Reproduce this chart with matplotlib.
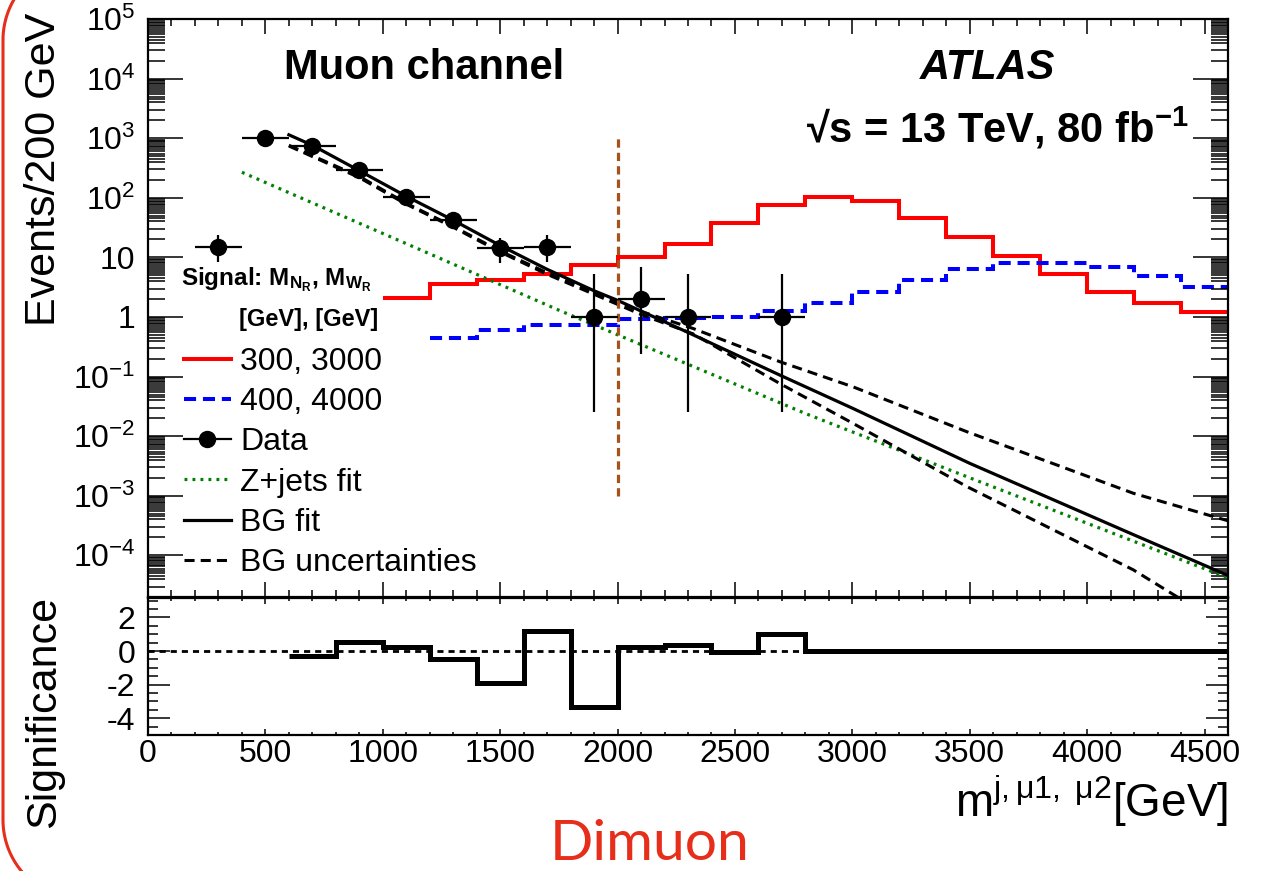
import numpy as np
import matplotlib
matplotlib.use("Agg")
import matplotlib.pyplot as plt
from matplotlib.lines import Line2D
from matplotlib.ticker import LogLocator, MultipleLocator, FixedLocator, FixedFormatter, NullFormatter

plt.rcParams['font.family'] = ['Liberation Sans', 'DejaVu Sans']
plt.rcParams['mathtext.fontset'] = 'custom'
plt.rcParams['mathtext.rm'] = 'Liberation Sans'
plt.rcParams['mathtext.it'] = 'Liberation Sans:italic'
plt.rcParams['mathtext.bf'] = 'Liberation Sans:bold'
plt.rcParams['mathtext.sf'] = 'Liberation Sans'
plt.rcParams['axes.unicode_minus'] = False

# ---------------- data ----------------
data_x = [300, 500, 700, 900, 1100, 1300, 1500, 1700, 1900, 2100, 2300, 2700]
data_y = [14.9, 1024, 746, 289, 103, 41.9, 14.1, 14.9, 1.0, 2.0, 1.0, 1.0]
data_lo = [8.3, 992, 719, 272, 93, 35.4, 8.0, 8.3, 0.0255, 0.243, 0.0255, 0.0255]
data_hi = [23.5, 1056, 773, 306, 113, 48.4, 21.0, 23.5, 5.35, 6.9, 5.35, 5.35]
data_xhalf = [100, 100, 100, 100, 100, 100, 100, 100, 100, 100, 100, 100]

sig1_edges = [1000, 1200, 1400, 1600, 1800, 2000, 2200, 2400, 2600, 2800, 3000,
              3200, 3400, 3600, 3800, 4000, 4200, 4400, 4600]
sig1_vals = [2.08, 3.63, 4.13, 5.35, 7.57, 10.2, 17.0, 37.5, 76, 105, 87, 45,
             22, 10.5, 5.2, 2.65, 1.7, 1.2]

sig2_edges = [1200, 1400, 1600, 1800, 2000, 2200, 2400, 2600, 2800, 3000, 3200,
              3400, 3600, 3800, 4000, 4200, 4400, 4600]
sig2_vals = [0.45, 0.60, 0.73, 0.73, 0.93, 0.95, 0.98, 1.26, 1.74, 2.6, 4.1,
             6.3, 8.2, 8.2, 6.8, 4.9, 3.2]

bg_x = [600, 700, 900, 1100, 1300, 1500, 1700, 1900, 2000, 2300, 2700, 3000, 3500, 4200, 4600]
bg_fit = [1140, 760, 285, 106, 42, 15.8, 6.3, 2.75, 1.9, 0.55, 0.102, 0.0295, 3.5e-3, 2.2e-4, 4.6e-5]

unc_x = [600, 900, 1100, 1300, 1500, 1700, 1900, 2100, 2322, 2692, 3004, 3487, 4197, 4600]
unc_up = [760, 228, 81, 33, 12.8, 5.5, 2.6, 1.24, 0.64, 0.177, 0.067, 0.0119, 1.1e-3, 3.8e-4]
unc_dn = [740, 218, 78, 32, 12.3, 5.2, 2.4, 1.1, 0.52, 0.076, 0.0163, 1.43e-3, 5.7e-5, 6e-6]

zj_x = [400, 1100, 1750, 2800, 3500, 4600]
zj_y = [268, 17, 1.3, 0.024, 2.0e-3, 4.2e-5]

cut_x = 2000
cut_range = [1e-3, 1e3]

signif_edges = [600, 800, 1000, 1200, 1400, 1600, 1800, 2000, 2200, 2400, 2600,
                2800, 3000, 3200, 3400, 3600, 3800, 4000, 4200, 4400, 4600]
signif_vals = [-0.3, 0.55, 0.22, -0.5, -1.93, 1.18, -3.32, 0.22, 0.36, -0.04, 1.0,
               0, 0, 0, 0, 0, 0, 0, 0, 0]

x_ticks = [0, 500, 1000, 1500, 2000, 2500, 3000, 3500, 4000, 4500]
y_ticks = [1e-4, 1e-3, 1e-2, 1e-1, 1, 10, 1e2, 1e3, 1e4, 1e5]
y_ticklabels = [r'$\mathregular{10^{-4}}$', r'$\mathregular{10^{-3}}$', r'$\mathregular{10^{-2}}$',
                r'$\mathregular{10^{-1}}$', '1', '10', r'$\mathregular{10^{2}}$',
                r'$\mathregular{10^{3}}$', r'$\mathregular{10^{4}}$', r'$\mathregular{10^{5}}$']
sig_ticks = [-4, -2, 0, 2]

# ---------------- figure ----------------
W, H = 1264, 871
fig = plt.figure(figsize=(W / 100, H / 100), dpi=100)


def fx(p):
    return p / W


def fy(p):
    return 1 - p / H


L, R = 148, 1228
main_top, main_bot = 19, 597
low_top, low_bot = 598, 735
ax = fig.add_axes([fx(L), fy(main_bot), (R - L) / W, (main_bot - main_top) / H])
axl = fig.add_axes([fx(L), fy(low_bot), (R - L) / W, (low_bot - low_top) / H])

# main panel
ax.set_yscale('log')
ax.set_xlim(0, 4600)
ax.set_ylim(2e-5, 1e5)

ax.stairs(sig1_vals, sig1_edges, baseline=None, color='#ff0000', lw=2.9)
ax.stairs(sig2_vals, sig2_edges, baseline=None, color='#0000ff', lw=2.9,
          linestyle=(0, (3.0, 1.7)))
ax.plot(zj_x, zj_y, color='#008000', lw=2.3, linestyle=(0, (0.9, 1.6)))
ax.plot(unc_x, unc_up, color='k', lw=2.2, linestyle=(0, (3.3, 2.0)))
ax.plot(unc_x, unc_dn, color='k', lw=2.2, linestyle=(0, (3.3, 2.0)))
ax.plot(bg_x, bg_fit, color='k', lw=2.3)
ax.vlines(cut_x, cut_range[0], cut_range[1], color='#a5521c', lw=2.3,
          linestyle=(0, (2.6, 1.6)))

dy = np.array(data_y)
yerr = [dy - np.array(data_lo), np.array(data_hi) - dy]
ax.errorbar(data_x, data_y, xerr=data_xhalf, yerr=yerr, fmt='o', color='k',
            ms=11.5, elinewidth=1.6, capsize=0, zorder=5)

ax.xaxis.set_major_locator(FixedLocator(x_ticks))
ax.xaxis.set_minor_locator(MultipleLocator(100))
ax.xaxis.set_major_formatter(NullFormatter())
ax.yaxis.set_major_locator(FixedLocator(y_ticks))
ax.yaxis.set_major_formatter(FixedFormatter(y_ticklabels))
ax.yaxis.set_minor_locator(LogLocator(base=10, subs=[2, 3, 4, 4.5, 5, 5.5, 6, 6.5, 7, 7.5, 8, 8.5, 9, 9.5], numticks=50))
ax.yaxis.set_minor_formatter(NullFormatter())
ax.tick_params(axis='both', which='both', direction='in', top=True, right=True, width=1.1)
ax.tick_params(axis='x', which='major', length=10.8)
ax.tick_params(axis='x', which='minor', length=5)
ax.tick_params(axis='y', which='major', length=25, labelsize=23, pad=9)
ax.tick_params(axis='y', which='minor', length=12)
for s in ax.spines.values():
    s.set_linewidth(1.6)

# legend
handles = [
    Line2D([], [], color='#ff0000', lw=2.9),
    Line2D([], [], color='#0000ff', lw=2.9, linestyle=(0, (3.0, 1.7))),
    Line2D([], [], color='k', lw=1.6, marker='o', ms=11.5),
    Line2D([], [], color='#008000', lw=2.3, linestyle=(0, (0.9, 1.6))),
    Line2D([], [], color='k', lw=2.3),
    Line2D([], [], color='k', lw=2.2, linestyle=(0, (3.3, 2.0))),
]
labels = ['300, 3000', '400, 4000', 'Data', 'Z+jets fit', 'BG fit', 'BG uncertainties']
ax.legend(handles, labels, loc='upper left',
          bbox_to_anchor=((184 - L) / (R - L), (main_bot - 347) / (main_bot - main_top)),
          frameon=False, fontsize=23, handlelength=1.47, handletextpad=0.28,
          labelspacing=0.32, borderpad=0, borderaxespad=0, numpoints=1)

fig.text(fx(181), fy(285), r'Signal: M$_{\mathbf{N}_{\mathbf{R}}}$, M$_{\mathbf{W}_{\mathbf{R}}}$',
         fontsize=17.5, fontweight='bold', ha='left', va='baseline')
fig.text(fx(378), fy(326), '[GeV], [GeV]', fontsize=17, fontweight='bold', ha='right', va='baseline')

fig.text(fx(424), fy(68), 'Muon channel', fontsize=30, fontweight='bold', ha='center', va='center')
fig.text(fx(988), fy(68), 'ATLAS', fontsize=30, fontweight='bold', fontstyle='italic',
         ha='center', va='center')
fig.text(fx(997), fy(128), '\u221as = 13 TeV, 80 fb$^{\\mathbf{-1}}$', fontsize=30,
         fontweight='bold', ha='center', va='center')

# lower panel
axl.set_xlim(0, 4600)
axl.set_ylim(-5.0, 3.16)
axl.hlines(0, 0, 4600, color='k', lw=2.0, linestyle=(0, (2.2, 1.8)))
axl.stairs(signif_vals, signif_edges, baseline=None, color='k', lw=3.6)
axl.xaxis.set_major_locator(FixedLocator(x_ticks))
axl.xaxis.set_minor_locator(MultipleLocator(100))
axl.yaxis.set_major_locator(FixedLocator(sig_ticks))
axl.yaxis.set_minor_locator(MultipleLocator(0.5))
axl.tick_params(axis='both', which='both', direction='in', top=True, right=True, width=1.1)
axl.tick_params(axis='x', which='major', length=4.5, labelsize=23, pad=3)
axl.tick_params(axis='x', which='minor', length=2.2)
axl.tick_params(axis='y', which='major', length=16, labelsize=23, pad=9)
axl.tick_params(axis='y', which='minor', length=7)
for s in axl.spines.values():
    s.set_linewidth(1.6)

# axis titles
fig.text(fx(44), fy(13), 'Events/200 GeV', fontsize=31, rotation=90, ha='center', va='top')
fig.text(fx(44), fy(596), 'Significance', fontsize=31, rotation=90, ha='center', va='top')
fig.text(fx(1228), fy(817), r'm$^{\mathregular{j,μ1,\ μ2}}$[GeV]', fontsize=33, ha='right', va='baseline')

# slide decoration
fig.text(fx(650), fy(860), 'Dimuon', fontsize=41, color='#e62e1b', family=['Lato', 'DejaVu Sans'],
         ha='center', va='baseline')
r_px = 80.0
t_top = np.linspace(np.pi, np.pi / 2, 40)
t_bot = np.linspace(3 * np.pi / 2, np.pi, 40)
top_x = 83 + r_px * np.cos(t_top)
top_y = 40 - r_px * np.sin(t_top)
bot_x = 83 + r_px * np.cos(t_bot)
bot_y = 820 - r_px * np.sin(t_bot)
edge_x = np.concatenate([top_x[::-1], bot_x[::-1]])
edge_y = np.concatenate([top_y[::-1], bot_y[::-1]])
fig.add_artist(Line2D(edge_x / W, 1 - edge_y / H, transform=fig.transFigure,
                      color='#e62e1b', lw=2.2, clip_on=False))

fig.savefig('out.png', dpi=100)
